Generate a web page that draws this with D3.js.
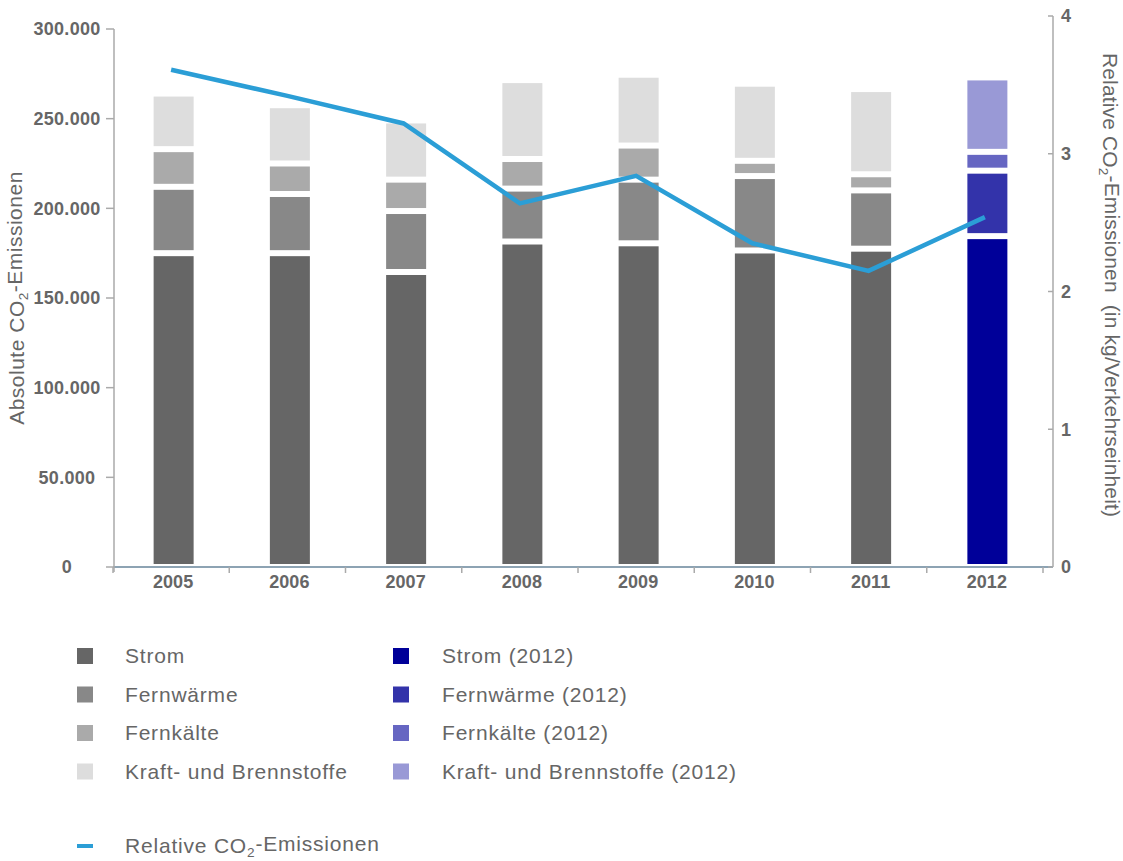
<!DOCTYPE html>
<html><head><meta charset="utf-8">
<script src="https://cdn.jsdelivr.net/npm/d3@7"></script>
<style>
body{margin:0;background:#fff;}
text{font-family:"Liberation Sans",Arial,sans-serif;}
</style></head>
<body>
<svg id="chart" width="1123" height="861"></svg>
<script>
const years = ["2005","2006","2007","2008","2009","2010","2011","2012"];
const strom      = [175000,175000,164500,181500,180500,176500,177500,184500];
const fernwaerme = [37000,33000,34000,29500,35500,41500,32500,36500];
const fernkaelte = [21000,17000,17500,16500,19000,8500,9000,10500];
const kraft      = [31000,32500,33000,44000,39500,43000,47500,41500];
const relative   = [3.61,3.42,3.22,2.64,2.84,2.35,2.15,2.54];
const seriesNames = ["Strom","Fernwärme","Fernkälte","Kraft- und Brennstoffe"];
const greyColors = ["#666666","#888888","#aaaaaa","#dddddd"];
const blueColors = ["#000099","#3333aa","#6666c2","#9999d6"];
const leftTicks = [0,50000,100000,150000,200000,250000,300000];
const rightTicks = [0,1,2,3,4];
const highlightYear = "2012";

const svg = d3.select("#chart");
const x = d3.scaleBand().domain(years).range([113,1043]);
const yL = d3.scaleLinear().domain([0,300000]).range([567,29]);
const yR = d3.scaleLinear().domain([0,4]).range([567,16]);
const de = d3.formatLocale({decimal:",",thousands:".",grouping:[3],currency:["","€"]});
const fmt = de.format(",.0f");
const textCol = "#666";

// x axis baseline
svg.append("line").attr("x1",113).attr("x2",1053).attr("y1",567).attr("y2",567)
  .attr("stroke","#8da3b3").attr("stroke-width",2);
const bounds = years.map(d=>x(d)).concat([x(years[years.length-1])+x.bandwidth()]);
svg.selectAll(".xt").data(bounds).join("line")
  .attr("x1",d=>d).attr("x2",d=>d).attr("y1",567).attr("y2",573)
  .attr("stroke","#aaa").attr("stroke-width",1.5);

// left axis
svg.append("line").attr("x1",114).attr("x2",114).attr("y1",yL(300000)).attr("y2",572)
  .attr("stroke","#aaa").attr("stroke-width",1.5);
svg.selectAll(".lt").data(leftTicks).join("line")
  .attr("x1",106).attr("x2",114).attr("y1",d=>yL(d)).attr("y2",d=>yL(d))
  .attr("stroke","#aaa").attr("stroke-width",1.5);
svg.selectAll(".ll").data(leftTicks).join("text")
  .attr("x",67).attr("y",d=>yL(d)).attr("dy","0.35em").attr("text-anchor","middle")
  .attr("font-size",18).attr("font-weight","bold").attr("fill",textCol)
  .attr("letter-spacing",0.3)
  .text(d=>fmt(d));

// right axis
svg.append("line").attr("x1",1053).attr("x2",1053).attr("y1",yR(4)).attr("y2",567)
  .attr("stroke","#aaa").attr("stroke-width",1.5);
svg.selectAll(".rt").data(rightTicks).join("line")
  .attr("x1",1048).attr("x2",1053).attr("y1",d=>yR(d)).attr("y2",d=>yR(d))
  .attr("stroke","#aaa").attr("stroke-width",1.5);
svg.selectAll(".rl").data(rightTicks).join("text")
  .attr("x",1061).attr("y",d=>yR(d)).attr("dy","0.35em").attr("text-anchor","start")
  .attr("font-size",18).attr("font-weight","bold").attr("fill",textCol)
  .text(d=>d);

// x labels
svg.selectAll(".xl").data(years).join("text")
  .attr("x",d=>x(d)+x.bandwidth()/2+2).attr("y",588).attr("text-anchor","middle")
  .attr("font-size",18).attr("font-weight","bold").attr("fill",textCol)
  .text(d=>d);

// axis titles
function co2Title(g, before, after){
  const t = g.append("text");
  t.append("tspan").text(before);
  t.append("tspan").attr("font-size","0.65em").attr("dy","0.3em").text("2");
  t.append("tspan").attr("dy","-0.3em").text(after);
  return t;
}
const lt = co2Title(svg.append("g").attr("transform","translate(24,298) rotate(-90)"),"Absolute CO","-Emissionen");
lt.attr("text-anchor","middle").attr("font-size",21).attr("letter-spacing",0.5).attr("fill",textCol);
const rt = co2Title(svg.append("g").attr("transform","translate(1103,285) rotate(90)"),"Relative CO","-Emissionen\u00a0 (in kg/Verkehrseinheit)");
rt.attr("text-anchor","middle").attr("font-size",21).attr("letter-spacing",0.15).attr("fill",textCol);

// stacked bars
const cols = [strom,fernwaerme,fernkaelte,kraft];
const stackData = years.map((yr,i)=>{
  let cum = 0;
  return cols.map((arr,k)=>{
    const s = {year:yr,k:k,y0:cum,y1:cum+arr[i]};
    cum += arr[i];
    return s;
  });
}).flat();
const barW = 40, inset = 3;
svg.selectAll(".seg").data(stackData).join("rect")
  .attr("x",d=>x(d.year)+x.bandwidth()/2+2.5-barW/2)
  .attr("width",barW)
  .attr("y",d=>yL(d.y1)+inset)
  .attr("height",d=>Math.max(0,yL(d.y0)-yL(d.y1)-2*inset))
  .attr("fill",d=>d.year===highlightYear?blueColors[d.k]:greyColors[d.k]);

// relative line
const line = d3.line().x((d,i)=>x(years[i])+x.bandwidth()/2).y(d=>yR(d));
svg.append("path").datum(relative).attr("d",line)
  .attr("fill","none").attr("stroke","#2b9ed6").attr("stroke-width",4.5)
  .attr("stroke-linejoin","miter");

// legend
const lg = svg.append("g");
const rowY = i=>656+i*38.5;
seriesNames.forEach((n,i)=>{
  lg.append("rect").attr("x",77).attr("y",rowY(i)-8).attr("width",16).attr("height",16).attr("fill",greyColors[i]);
  lg.append("text").attr("x",125).attr("y",rowY(i)).attr("dy","0.35em").attr("font-size",21).attr("letter-spacing",0.8).attr("fill",textCol).text(n);
  lg.append("rect").attr("x",393).attr("y",rowY(i)-8).attr("width",16).attr("height",16).attr("fill",blueColors[i]);
  lg.append("text").attr("x",442).attr("y",rowY(i)).attr("dy","0.35em").attr("font-size",21).attr("letter-spacing",0.8).attr("fill",textCol).text(n+" ("+highlightYear+")");
});
lg.append("line").attr("x1",77).attr("x2",93).attr("y1",846).attr("y2",846).attr("stroke","#2b9ed6").attr("stroke-width",4);
const lt2 = co2Title(lg,"Relative CO","-Emissionen");
lt2.attr("x",125).attr("y",846).attr("dy","0.35em").attr("font-size",21).attr("letter-spacing",0.8).attr("fill",textCol);
lt2.select("tspan").attr("x",125).attr("dy","0.35em");
</script>
</body></html>
